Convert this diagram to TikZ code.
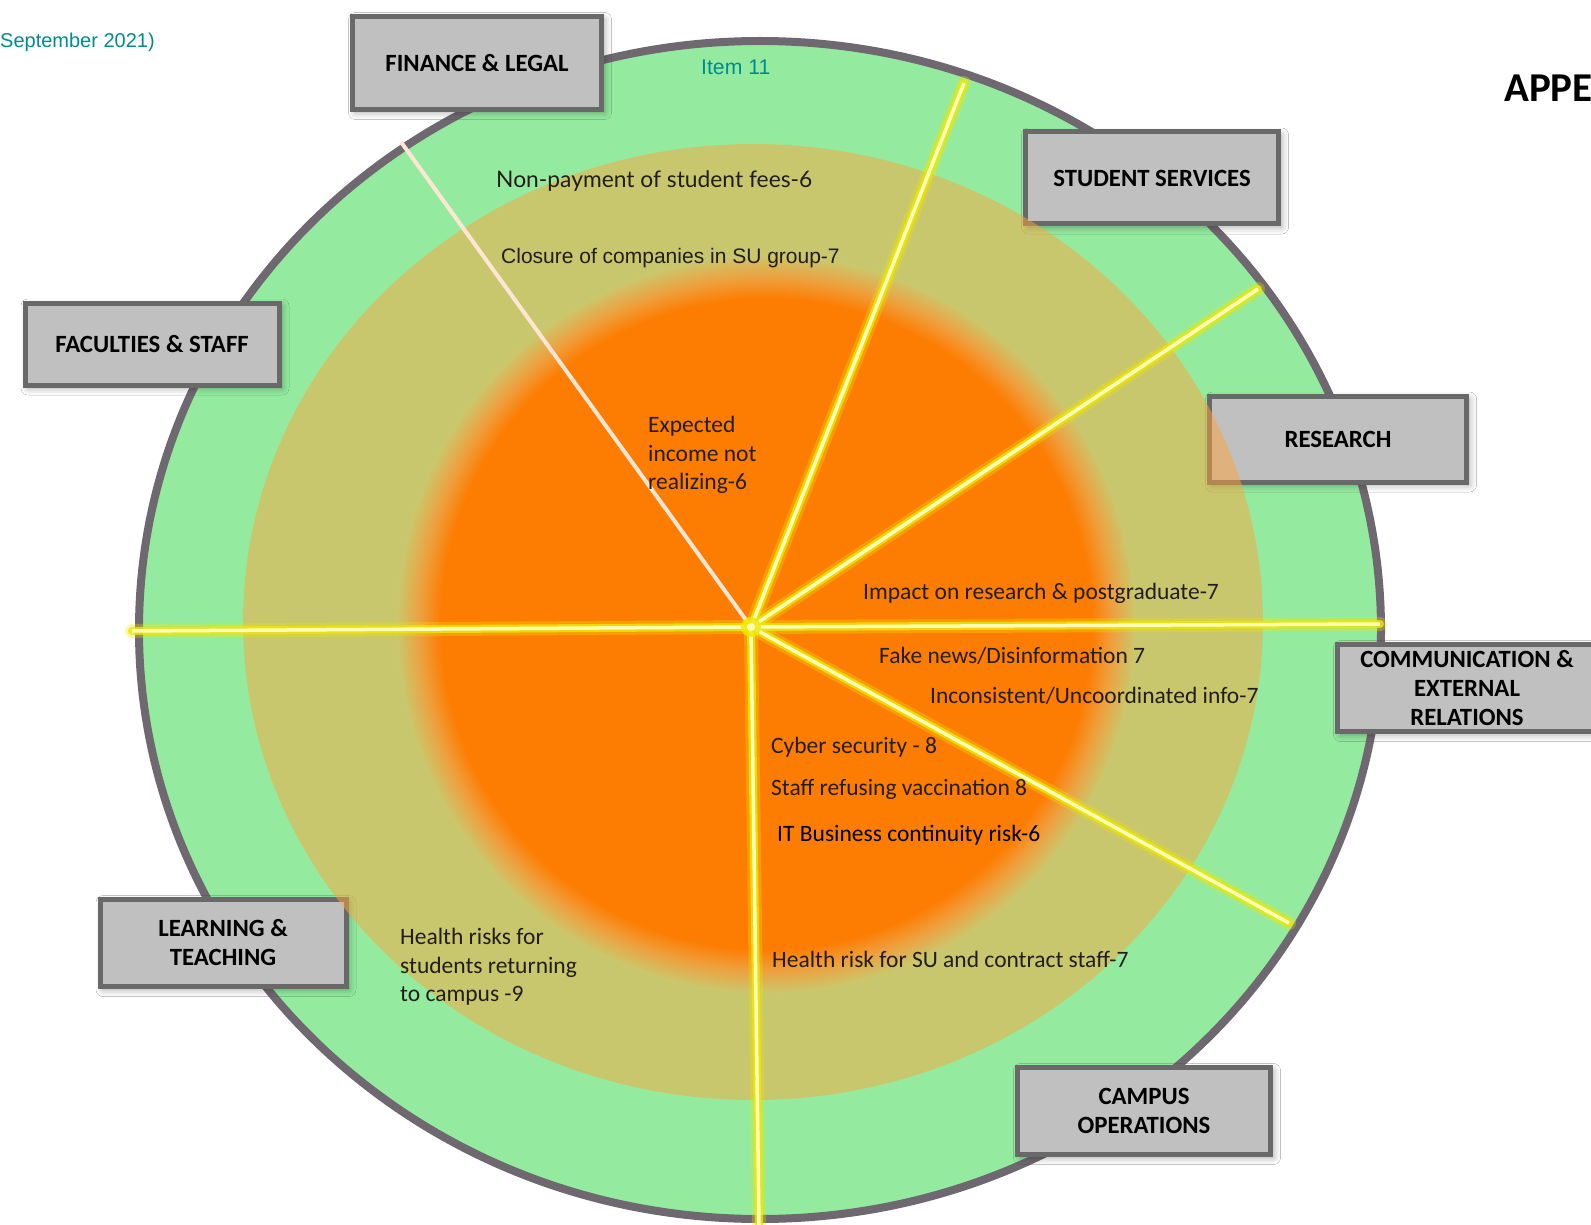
\documentclass[tikz,border=0pt]{standalone}
\usepackage{fontspec}
\setmainfont{Carlito}
\newfontfamily\arialfont{Liberation Sans}
\newfontfamily\latofont{Lato}
\usepackage{tikz}
\usetikzlibrary{positioning, shadows.blur}
\definecolor{ringgreen}{RGB}{148,235,160}
\definecolor{rimgray}{RGB}{112,104,112}
\definecolor{tanhaze}{RGB}{255,165,60}
\definecolor{tanring}{RGB}{202,200,110}
\definecolor{coreorange}{RGB}{253,125,3}
\definecolor{coreedge}{RGB}{238,160,62}
\definecolor{boxgray}{RGB}{192,192,192}
\definecolor{boxline}{RGB}{105,105,105}
\definecolor{itemteal}{RGB}{0,140,140}
\definecolor{spokeyellow}{RGB}{238,232,0}
\definecolor{spokecore}{RGB}{255,255,185}
\definecolor{spokepale}{RGB}{255,230,212}
\definecolor{textdark}{RGB}{35,30,25}
\pgfdeclareradialshading{corefade}{\pgfpoint{0bp}{0bp}}{color(0bp)=(coreorange); color(22bp)=(coreorange); color(23.4bp)=(coreedge); color(25bp)=(tanring); color(50bp)=(tanring)}

\begin{document}
\begin{tikzpicture}[x=1pt, y=-1pt,
        unit box/.style={rectangle, draw=boxline, line width=5pt, fill=boxgray, minimum width=250pt, minimum height=88pt, align=center, text=black, font=\fontsize{24.8}{29}\selectfont\bfseries, blur shadow={shadow xshift=3pt, shadow yshift=-3pt, shadow blur radius=7pt, shadow opacity=35}},
        risk/.style={anchor=west, inner sep=0pt, align=left, text=textdark, font=\fontsize{23.5}{28.5}\selectfont},
        spoke glow/.style={spokeyellow, line width=14pt, opacity=0.3, line cap=round},
        spoke/.style={spokeyellow, line width=8pt, opacity=0.8, line cap=round},
        spoke core/.style={spokecore, line width=3.5pt}
    ]
        \useasboundingbox (0,0) rectangle (1591,1225);
        \fill[white] (0,0) rectangle (1591,1225);

        \draw[rimgray, line width=8pt, fill=ringgreen] (760,630) ellipse [x radius=621, y radius=589];

        \node[unit box, minimum width=249pt, minimum height=93pt] (finance) at (477,63) {FINANCE \& LEGAL};
        \node[unit box, minimum width=253pt, minimum height=92pt] (students) at (1152,178) {STUDENT SERVICES};
        \node[unit box, minimum width=254pt, minimum height=82pt] (faculties) at (152,344) {FACULTIES \& STAFF};
        \node[unit box, minimum width=257pt, minimum height=86pt] (research) at (1338,439) {RESEARCH};
        \node[unit box, minimum width=259pt, minimum height=87pt] (comms) at (1467,688) {COMMUNICATION \&\\EXTERNAL\\RELATIONS};
        \node[unit box, minimum width=246pt, minimum height=87pt] (learning) at (223,943) {LEARNING \&\\TEACHING};
        \node[unit box, minimum width=253pt, minimum height=87pt] (campus) at (1144,1111) {CAMPUS\\OPERATIONS};

        \fill[tanhaze, opacity=0.5] (753,622) ellipse [x radius=510, y radius=478];
        \shade[shading=corefade] (766,624) circle [radius=370];

        \coordinate (hub) at (751,627);
        \coordinate (tip fin) at (401,142);
        \coordinate (tip ss) at (964,83);
        \coordinate (tip res) at (1258,289);
        \coordinate (tip east) at (1380,624);
        \coordinate (tip west) at (132,631);
        \coordinate (tip comm) at (1289,923);
        \coordinate (tip south) at (759,1225);

        \draw[spokepale, line width=4pt] (hub) -- (tip fin);
        \foreach \t in {tip ss, tip res, tip east, tip west, tip comm, tip south}
            \draw[spoke glow] (hub) -- (\t);
        \foreach \t in {tip ss, tip res, tip east, tip west, tip comm, tip south}
            \draw[spoke] (hub) -- (\t);
        \foreach \t in {tip ss, tip res, tip east, tip west, tip comm, tip south}
            \draw[spoke core] (hub) -- (\t);
        \fill[spokeyellow, opacity=0.8] (hub) circle [radius=10];
        \fill[spokecore] (hub) circle [radius=4];

        \node[anchor=west, inner sep=0pt, text=itemteal, font=\arialfont\fontsize{20}{24}\selectfont] (date) at (0,42) {September 2021)};
        \node[anchor=west, inner sep=0pt, text=itemteal, font=\arialfont\fontsize{21.2}{25}\selectfont] (item) at (701,67) {Item 11};
        \node[anchor=west, inner sep=0pt, font=\fontsize{41}{48}\selectfont\bfseries] (appe) at (1504,88) {APPE};

        \node[risk, font=\latofont\fontsize{22.8}{27}\selectfont] (fees) at (496,181) {Non-payment of student fees-6};
        \node[risk, font=\arialfont\fontsize{21}{25}\selectfont] (closure) at (501,258) {Closure of companies in SU group-7};
        \node[risk] (income) at (648,455) {Expected\\income not\\realizing-6};
        \node[risk] (impact) at (863,593) {Impact on research \& postgraduate-7};
        \node[risk] (fake) at (879,656) {Fake news/Disinformation 7};
        \node[risk] (inconsistent) at (930,696) {Inconsistent/Uncoordinated info-7};
        \node[risk] (cyber) at (771,747) {Cyber security - 8};
        \node[risk] (vaccine) at (771,789) {Staff refusing vaccination 8};
        \node[risk, text=black] (itbc) at (777,835) {IT Business continuity risk-6};
        \node[risk] (returning) at (400,967) {Health risks for\\students returning\\to campus -9};
        \node[risk] (contract) at (772,959) {Health risk for SU and contract staff-7};
    \end{tikzpicture}
\end{document}
